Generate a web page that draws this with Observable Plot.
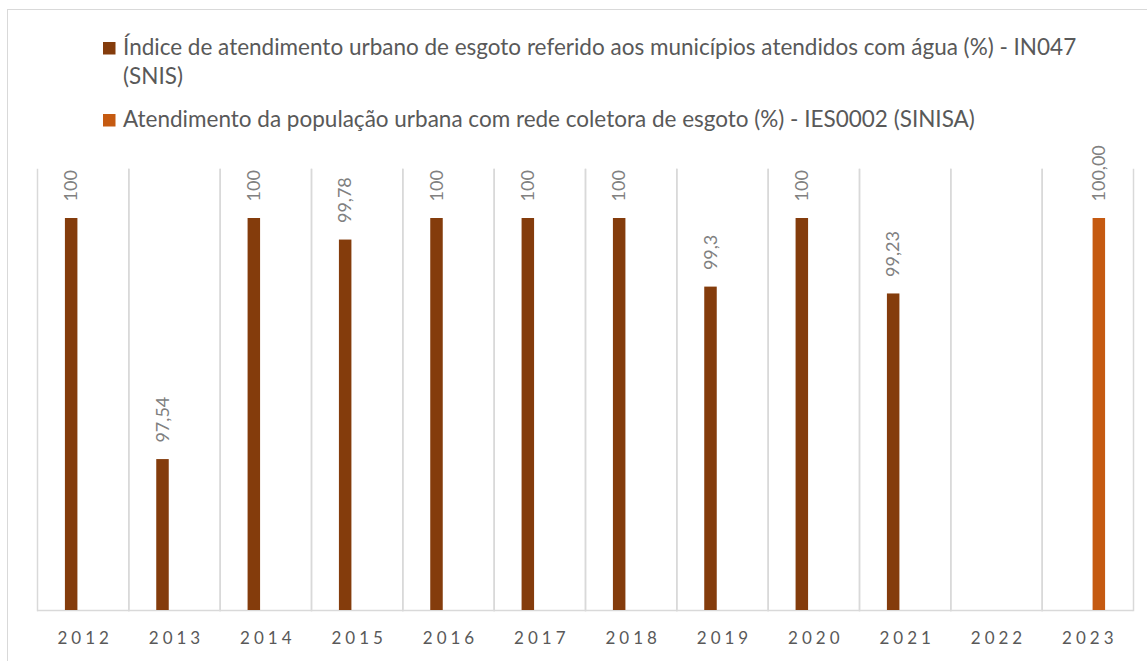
<!DOCTYPE html>
<html><head><meta charset="utf-8">
<script src="https://cdn.jsdelivr.net/npm/d3@7"></script>
<script src="https://cdn.jsdelivr.net/npm/@observablehq/plot@0.6"></script>
<style>
body{margin:0;background:#fff;}
#wrap{position:relative;width:1147px;height:661px;overflow:hidden;font-family:Lato,sans-serif;background:#fff;}
#border{position:absolute;left:7px;top:9px;width:1200px;height:700px;border:1.5px solid #d9d9d9;box-sizing:border-box;}
#legend{position:absolute;left:0;top:0;}
#chart{position:absolute;left:0;top:130px;}
</style></head>
<body><div id="wrap"><div id="border"></div><div id="chart"></div><svg id="legend" width="1147" height="140"></svg></div>
<script>
const years = [2012, 2013, 2014, 2015, 2016, 2017, 2018, 2019, 2020, 2021, 2022, 2023];
const seriesNames = [
  "Índice de atendimento urbano de esgoto referido aos municípios atendidos com água (%) - IN047 (SNIS)",
  "Atendimento da população urbana com rede coletora de esgoto (%) - IES0002 (SINISA)"
];
const legendLines = [
  ["Índice de atendimento urbano de esgoto referido aos municípios atendidos com água (%) - IN047", "(SNIS)"],
  ["Atendimento da população urbana com rede coletora de esgoto (%) - IES0002 (SINISA)"]
];
const seriesColors = ["#843c0c", "#c55a11"];
// 2022: no value reported (null)
const snisYears = [2012, 2013, 2014, 2015, 2016, 2017, 2018, 2019, 2020, 2021, 2022];
const snisValues = [100, 97.54, 100, 99.78, 100, 100, 100, 99.3, 100, 99.23, null];
const snisLabels = ["100", "97,54", "100", "99,78", "100", "100", "100", "99,3", "100", "99,23", ""];
const sinisaYears = [2023];
const sinisaValues = [100];
const sinisaLabels = ["100,00"];
const yMin = 96, yMax = 100.5;

const rows = [
  ...snisYears.map((y, i) => ({year: y, series: seriesNames[0], value: snisValues[i], label: snisLabels[i]})),
  ...sinisaYears.map((y, i) => ({year: y, series: seriesNames[1], value: sinisaValues[i], label: sinisaLabels[i]}))
];

// legend
const leg = d3.select("#legend");
const legBase = [55, 127];
legendLines.forEach((lines, i) => {
  leg.append("rect").attr("x", 103).attr("y", legBase[i] - 13).attr("width", 12.5).attr("height", 12.5).attr("fill", seriesColors[i]);
  lines.forEach((t, j) => {
    leg.append("text").attr("x", 123).attr("y", legBase[i] + j * 29)
      .attr("fill", "#595959").attr("font-size", 22.5).attr("font-family", "Lato, sans-serif").text(t);
  });
});

const chart = Plot.plot({
  width: 1147, height: 531,
  marginLeft: 37, marginRight: 14, marginTop: 39, marginBottom: 51,
  style: {fontFamily: "Lato, sans-serif", background: "transparent"},
  fx: {domain: years, padding: 0, round: false, label: null, tickFormat: d => String(d)},
  x: {domain: seriesNames, paddingInner: 0.457, paddingOuter: 1.213, round: false, axis: null},
  y: {domain: [yMin, yMax], clamp: true, axis: null},
  color: {domain: seriesNames, range: seriesColors},
  marks: [
    Plot.frame({anchor: "left", stroke: "#d9d9d9", strokeWidth: 1.5}),
    Plot.frame({anchor: "right", stroke: "#d9d9d9", strokeWidth: 1.5}),
    Plot.ruleY([yMin], {stroke: "#d9d9d9", strokeWidth: 1.5}),
    Plot.barY(rows, {fx: "year", x: "series", y: "value", fill: "series"}),
    Plot.text(rows, {fx: "year", x: "series", y: "value", text: "label", rotate: -90, textAnchor: "start", dy: -17, fill: "#808080", fontSize: 18}),
    Plot.axisFx({anchor: "bottom", tickSize: 0, tickPadding: 21, fontSize: 17, fill: "#595959", label: null, dx: 2, tickFormat: d => String(d)})
  ]
});
document.getElementById("chart").appendChild(chart);
d3.select(chart).selectAll('g[aria-label="fx-axis tick label"] text').style("letter-spacing", "4px");
</script>
</body></html>
